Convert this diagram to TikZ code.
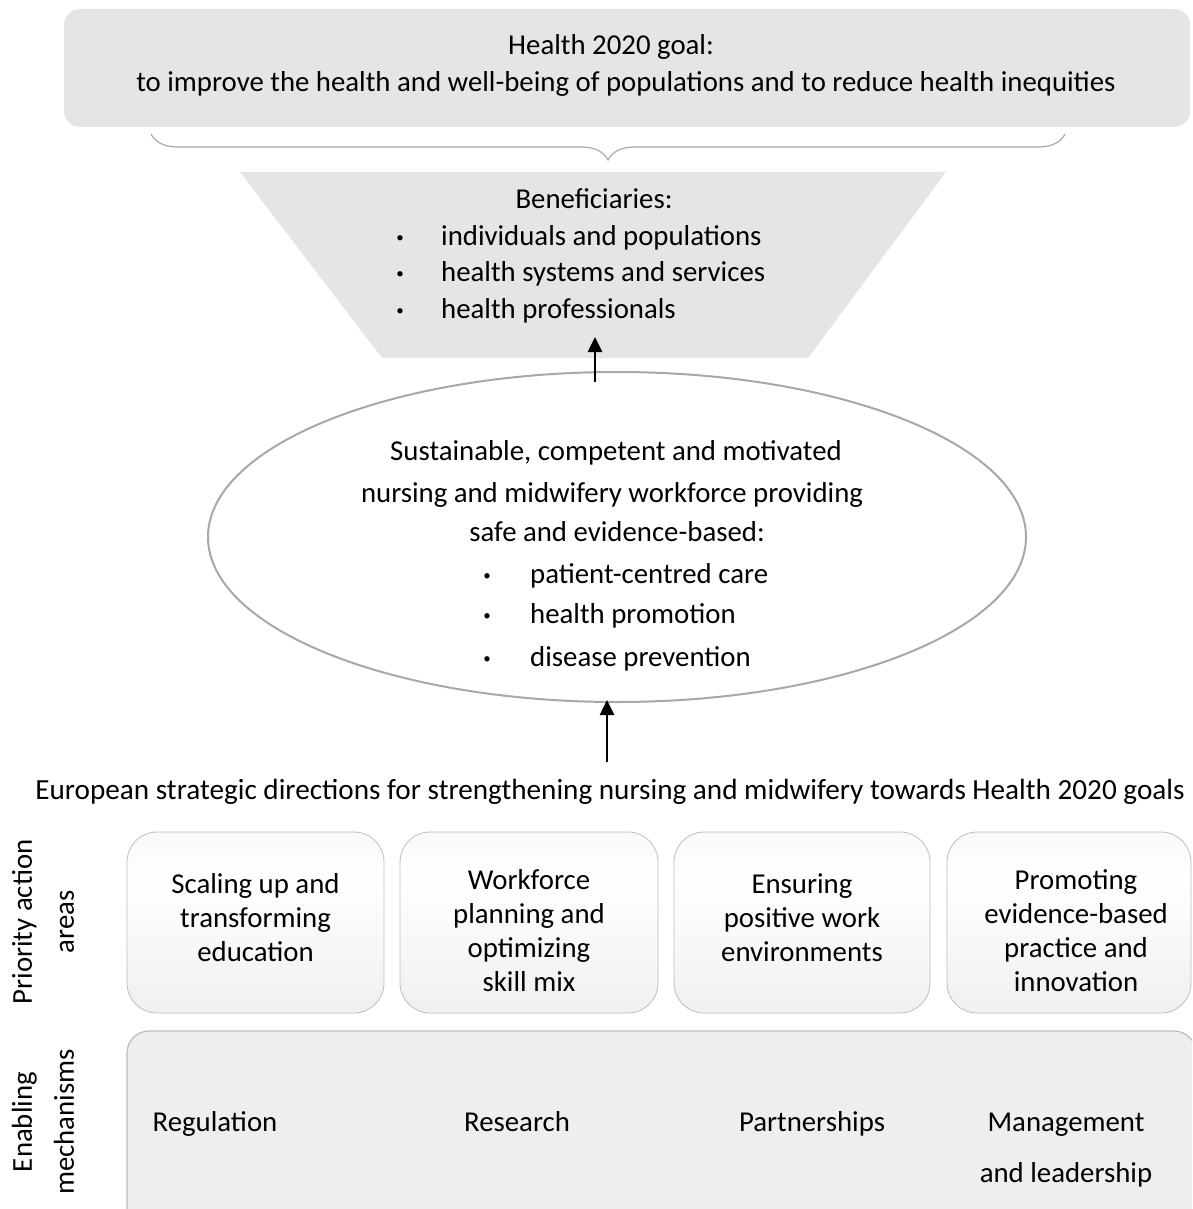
\documentclass[tikz,border=0pt]{standalone}
\usepackage{fontspec}
\setmainfont{Carlito}
\usetikzlibrary{decorations.pathreplacing,arrows.meta,shapes.geometric}
\definecolor{panelgray}{HTML}{E5E5E5}
\definecolor{framegray}{HTML}{BDBDBD}
\definecolor{ellgray}{HTML}{A8A8A8}
\definecolor{mechgray}{HTML}{EEEEEE}
\pgfdeclareverticalshading{padshade}{100bp}{color(0bp)=(gray!22); color(25bp)=(gray!12); color(62bp)=(white); color(100bp)=(gray!14)}
\begin{document}
\begin{tikzpicture}[x=1pt,y=-1pt,
  lbl/.style={inner sep=0pt, anchor=base},
  lblw/.style={inner sep=0pt, anchor=base west},
  ft/.style={font=\fontsize{28.8}{34}\selectfont},
  fd/.style={font=\fontsize{29.2}{34}\selectfont},
  bul/.style={inner sep=0pt, anchor=base, font=\fontsize{15}{18}\selectfont},
  pad/.style={draw=framegray, line width=0.8pt, rounded corners=30pt, shading=padshade,
    minimum height=181pt, inner sep=0pt},
  padtext/.style={align=center, inner sep=0pt, font=\fontsize{28.8}{34}\selectfont},
  uparrow/.style={-{Triangle[length=15pt,width=14pt]}, line width=2.6pt, black},
  sidelbl/.style={rotate=90, align=center, inner sep=0pt, font=\fontsize{28.8}{42}\selectfont}
]
\useasboundingbox (0,0) rectangle (1192,1209);
\clip (0,0) rectangle (1192,1209);

% goal box
\node[fill=panelgray, rounded corners=16pt, minimum width=1126pt, minimum height=118pt, inner sep=0pt] (goal) at (627,68) {};
\node[lbl, ft] (goal1) at (611,55) {Health 2020 goal:};
\node[lbl, ft] (goal2) at (626,92) {to improve the health and well-being of populations and to reduce health inequities};

% brace
\coordinate (brL) at (151,134);
\coordinate (brR) at (1065,134);
\draw[ellgray, line width=1.2pt, decorate, decoration={brace, amplitude=26pt, mirror}] (brL) -- (brR);

% beneficiaries trapezoid
\fill[panelgray] (240,172) -- (946,172) -- (808,358) -- (382,358) -- cycle;
\node[lbl, ft] (ben0) at (594,208) {Beneficiaries:};
\node[bul] (bb1) at (400,242) {•};
\node[bul] (bb2) at (400,278) {•};
\node[bul] (bb3) at (400,315) {•};
\node[lblw, ft] (ben1) at (441,245) {individuals and populations};
\node[lblw, ft] (ben2) at (441,281) {health systems and services};
\node[lblw, ft] (ben3) at (441,318) {health professionals};

% ellipse
\node[draw=ellgray, line width=2pt, fill=white, ellipse, minimum width=818pt, minimum height=330pt, inner sep=0pt] (work) at (617,537) {};
\node[lbl, ft] (w1) at (616,460) {Sustainable, competent and motivated};
\node[lbl, ft] (w2) at (612,502) {nursing and midwifery workforce providing};
\node[lbl, ft] (w3) at (617,541) {safe and evidence-based:};
\node[bul] (wb1) at (487,580) {•};
\node[bul] (wb2) at (487,620) {•};
\node[bul] (wb3) at (487,663) {•};
\node[lblw, ft] (w4) at (530,583) {patient-centred care};
\node[lblw, ft] (w5) at (530,623) {health promotion};
\node[lblw, ft] (w6) at (530,666) {disease prevention};

% arrows
\coordinate (a1s) at (595,382);
\coordinate (a1e) at (595,337);
\draw[uparrow] (a1s) -- (a1e);
\coordinate (a2s) at (607,762);
\coordinate (a2e) at (607,700);
\draw[uparrow] (a2s) -- (a2e);

% strategic directions
\node[lbl, fd] (euro) at (610,799) {European strategic directions for strengthening nursing and midwifery towards Health 2020 goals};

% priority action areas
\node[pad, minimum width=257pt] (p1) at (255.5,922.5) {};
\node[pad, minimum width=258pt] (p2) at (529,922.5) {};
\node[pad, minimum width=256pt] (p3) at (802,922.5) {};
\node[pad, minimum width=244pt] (p4) at (1069,922.5) {};
\node[padtext] (t1) at (255.5,918) {Scaling up and\\transforming\\education};
\node[padtext] (t2) at (529,931) {Workforce\\planning and\\optimizing\\skill mix};
\node[padtext] (t3) at (802,918) {Ensuring\\positive work\\environments};
\node[padtext] (t4) at (1076,931) {Promoting\\evidence-based\\practice and\\innovation};

% enabling mechanisms
\draw[draw=framegray, line width=1.2pt, fill=mechgray, rounded corners=22pt] (127,1240) -- (127,1031) -- (1196,1031) -- (1196,1240);
\node[lbl, ft] (m1) at (215,1131) {Regulation};
\node[lbl, ft] (m2) at (517,1131) {Research};
\node[lbl, ft] (m3) at (812,1131) {Partnerships};
\node[lbl, ft] (m4) at (1066,1131) {Management};
\node[lbl, ft] (m5) at (1066,1182) {and leadership};

% side labels
\node[sidelbl] (side1) at (43,922) {Priority action\\areas};
\node[sidelbl] (side2) at (43,1122) {Enabling\\mechanisms};
\end{tikzpicture}
\end{document}
